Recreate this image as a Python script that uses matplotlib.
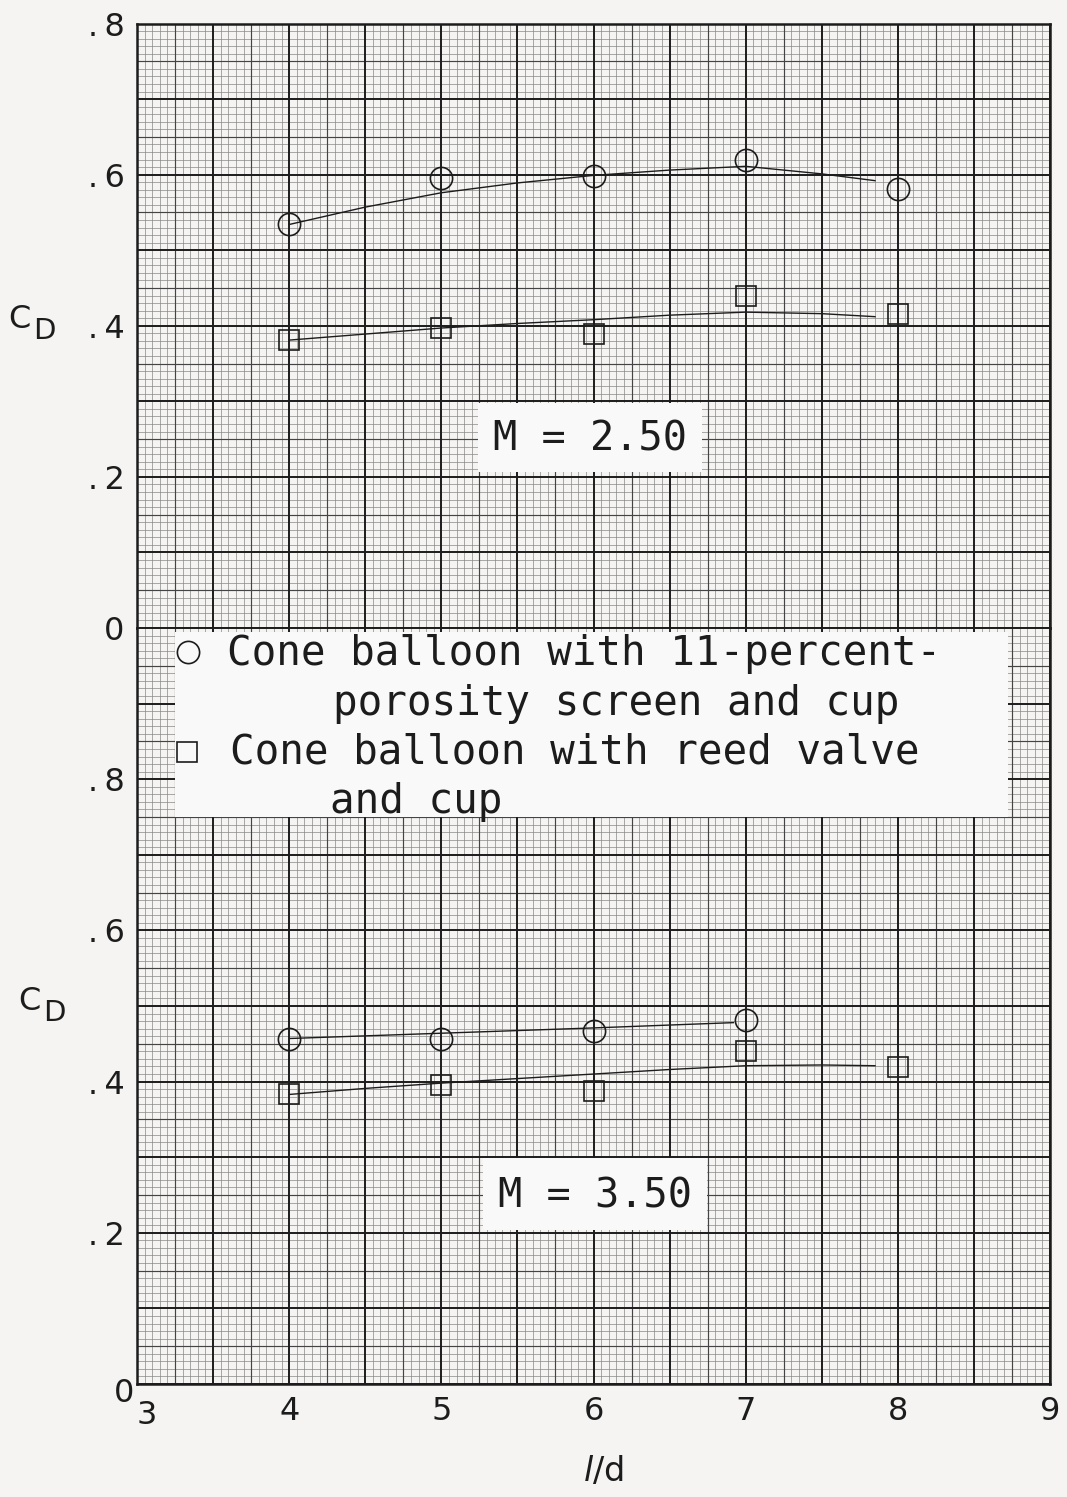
import matplotlib.pyplot as plt
import numpy as np
from matplotlib.lines import Line2D
from matplotlib.patches import Rectangle
from matplotlib.transforms import ScaledTranslation

# l/d stations
ld = [4, 5, 6, 7, 8]

# M = 2.50
cd_screen_m250 = [0.534, 0.595, 0.598, 0.619, 0.581]
cd_reed_m250 = [0.381, 0.397, 0.389, 0.440, 0.415]
fair_ld = [4, 4.5, 5, 5.5, 6, 6.5, 7, 7.5, 7.85]
fair_screen_m250 = [0.534, 0.557, 0.576, 0.589, 0.599, 0.606, 0.611, 0.601, 0.592]
fair_reed_m250 = [0.381, 0.389, 0.397, 0.403, 0.408, 0.414, 0.418, 0.416, 0.412]

# M = 3.50 (no screen point at l/d = 8)
ld_screen_m350 = [4, 5, 6, 7]
cd_screen_m350 = [0.457, 0.457, 0.467, 0.482]
cd_reed_m350 = [0.383, 0.396, 0.388, 0.440, 0.419]
fair_screen_ld_m350 = [4, 5, 6, 6.92]
fair_screen_m350 = [0.457, 0.464, 0.471, 0.478]
fair_reed_m350 = [0.383, 0.391, 0.398, 0.404, 0.410, 0.416, 0.421, 0.422, 0.421]

x_ticks = [3, 4, 5, 6, 7, 8, 9]
y_ticks = [0, 0.2, 0.4, 0.6, 0.8]
y_labels = ['0', '.\u20092', '.\u20094', '.\u20096', '.\u20098']

legend_lines = ['Cone balloon with 11-percent-', 'porosity screen and cup',
                'Cone balloon with reed valve', 'and cup']

paper = '#f5f4f3'
ink = '#1c1c1c'
W, H = 1067, 1497


def fx(px):
    return px / W


def fy(py):
    return 1 - py / H


def graph_paper(ax, ymax):
    # fine lines every 0.05 in x / 0.01 in y, medium every 5, heavy every 10
    xs = np.round(np.arange(3, 9.0001, 0.05), 3)
    ys = np.round(np.arange(0, ymax + 0.0001, 0.01), 3)
    for i, x in enumerate(xs):
        if i % 10 == 0:
            ax.axvline(x, color=ink, lw=1.4, zorder=1.2)
        elif i % 5 == 0:
            ax.axvline(x, color='#444444', lw=0.85, zorder=1.1)
        else:
            ax.axvline(x, color='#878787', lw=0.5, zorder=1)
    for i, y in enumerate(ys):
        if i % 10 == 0:
            ax.axhline(y, color=ink, lw=1.4, zorder=1.2)
        elif i % 5 == 0:
            ax.axhline(y, color='#444444', lw=0.85, zorder=1.1)
        else:
            ax.axhline(y, color='#878787', lw=0.5, zorder=1)
    ax.set_xlim(3, 9)
    ax.set_ylim(0, ymax)
    ax.set_facecolor(paper)
    for s in ax.spines.values():
        s.set_linewidth(1.8)
        s.set_color(ink)
    ax.tick_params(length=0, labelsize=23, colors=ink, pad=9)
    ax.set_yticks(y_ticks)
    ax.set_yticklabels(y_labels)


fig = plt.figure(figsize=(10.67, 14.97), dpi=100, facecolor=paper)
left, right = fx(137), fx(1050)
bot, mid, top = fy(1384), fy(628), fy(23.5)
ax_top = fig.add_axes([left, mid, right - left, top - mid])
ax_bot = fig.add_axes([left, bot, right - left, mid - bot])

graph_paper(ax_top, 0.8)
graph_paper(ax_bot, 1.0)
ax_top.set_xticks([])
ax_bot.spines['top'].set_visible(False)
ax_bot.set_xticks(x_ticks)
ax_bot.set_xticklabels([str(v) for v in x_ticks])

# shift the corner labels like on the original sheet
lab0 = ax_bot.get_yticklabels()[0]
lab0.set_transform(lab0.get_transform() + ScaledTranslation(0.10, -0.06, fig.dpi_scale_trans))
lab3 = ax_bot.get_xticklabels()[0]
lab3.set_transform(lab3.get_transform() + ScaledTranslation(0.10, -0.03, fig.dpi_scale_trans))

mk = dict(color=ink, lw=1.0, zorder=5)
ms = dict(linestyle='none', markerfacecolor='none', markeredgecolor=ink, markeredgewidth=1.2)

ax_top.plot(fair_ld, fair_screen_m250, **mk)
ax_top.plot(fair_ld, fair_reed_m250, **mk)
ax_top.plot(ld, cd_screen_m250, marker='o', markersize=16, zorder=6, **ms)
ax_top.plot(ld, cd_reed_m250, marker='s', markersize=15, zorder=6, **ms)

ax_bot.plot(fair_screen_ld_m350, fair_screen_m350, **mk)
ax_bot.plot(fair_ld, fair_reed_m350, **mk)
ax_bot.plot(ld_screen_m350, cd_screen_m350, marker='o', markersize=16, zorder=6, **ms)
ax_bot.plot(ld, cd_reed_m350, marker='s', markersize=15, zorder=6, **ms)

# C_D labels
for cx, cy in [(19, 320), (29, 1002)]:
    fig.text(fx(cx), fy(cy), 'C', fontsize=23, color=ink, ha='center', va='center')
    fig.text(fx(cx + 25), fy(cy + 11), 'D', fontsize=21, color=ink, ha='center', va='center')

fig.text(fx(603), fy(1472), r'$l$/d', fontsize=24, color=ink, ha='center', va='center')

# Mach number boxes
mono = 'DejaVu Sans Mono'
for (x0, y0, x1, y1), txt in [((478, 403, 702, 472), 'M = 2.50'),
                              ((483, 1158, 707, 1230), 'M = 3.50')]:
    fig.add_artist(Rectangle((fx(x0), fy(y1)), fx(x1) - fx(x0), fy(y0) - fy(y1),
                             transform=fig.transFigure, facecolor='#f9f9f9',
                             edgecolor='none', zorder=2))
    fig.text(fx((x0 + x1) / 2), fy((y0 + y1) / 2 + 2), txt, family=mono, fontsize=29,
             color=ink, ha='center', va='center', zorder=3)

# key
fig.add_artist(Rectangle((fx(175), fy(817)), fx(1008) - fx(175), fy(632) - fy(817),
                         transform=fig.transFigure, facecolor='#f9f9f9',
                         edgecolor='none', zorder=2))
fig.add_artist(Line2D([fx(188)], [fy(652)], marker='o', markersize=16,
                      transform=fig.transFigure, zorder=3, **ms))
fig.add_artist(Line2D([fx(187)], [fy(752)], marker='s', markersize=15,
                      transform=fig.transFigure, zorder=3, **ms))
for (tx, ty), txt in zip([(227, 665), (333, 715), (230, 763), (330, 813)], legend_lines):
    fig.text(fx(tx), fy(ty), txt, family=mono, fontsize=29.5, color=ink,
             ha='left', va='baseline', zorder=3)

fig.savefig('out.png', dpi=100, facecolor=paper)
